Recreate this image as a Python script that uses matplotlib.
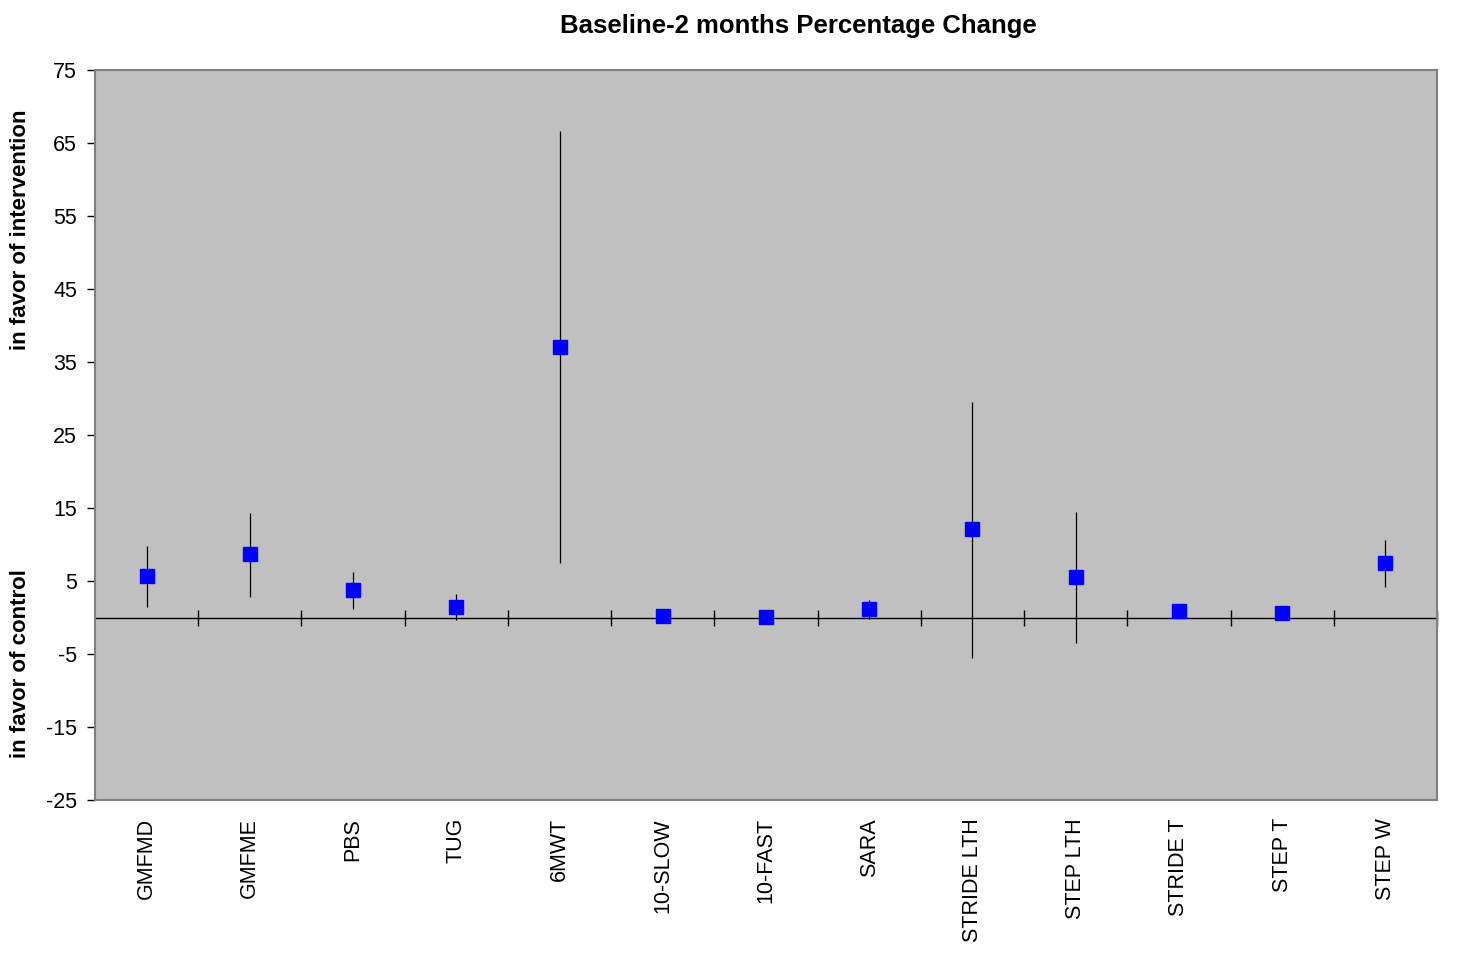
import matplotlib.pyplot as plt
import numpy as np

plt.rcParams["font.family"] = ["Liberation Sans", "DejaVu Sans"]
plt.rcParams["axes.unicode_minus"] = False

measures = ["GMFMD", "GMFME", "PBS", "TUG", "6MWT", "10-SLOW", "10-FAST",
            "SARA", "STRIDE LTH", "STEP LTH", "STRIDE T", "STEP T", "STEP W"]
change = [5.7, 8.7, 3.8, 1.4, 37.0, 0.2, 0.1, 1.1, 12.1, 5.5, 0.9, 0.6, 7.5]
upper = [9.8, 14.3, 6.2, 3.2, 66.6, 0.5, 0.3, 2.4, 29.5, 14.5, 1.1, 0.8, 10.6]
lower = [1.4, 2.8, 1.2, -0.3, 7.5, -0.1, -0.1, -0.2, -5.5, -3.5, 0.7, 0.4, 4.2]
y_ticks = [75, 65, 55, 45, 35, 25, 15, 5, -5, -15, -25]

x = np.arange(len(measures))
change = np.array(change)
yerr = [change - np.array(lower), np.array(upper) - change]

fig = plt.figure(figsize=(14.57, 9.71), dpi=100)
ax = fig.add_axes([0.0652, 0.1761, 0.9211, 0.7518])
ax.set_facecolor("#c0c0c0")

ax.errorbar(x, change, yerr=yerr, fmt="s", color="#0000ff", markersize=9.5,
            ecolor="black", elinewidth=0.9, capsize=0, zorder=3)

ax.set_xlim(-0.5, len(measures) - 0.5)
ax.set_ylim(-25, 75)
ax.set_yticks(y_ticks)
ax.tick_params(axis="y", direction="out", length=6, width=1, labelsize=15.5, pad=7)
ax.set_xticks(x)
ax.set_xticklabels(measures, rotation=90, fontsize=15.5, va="top", ha="center")
ax.tick_params(axis="x", length=0, pad=13)

for side in ["left", "right", "top", "bottom"]:
    ax.spines[side].set_color("#808080")
    ax.spines[side].set_linewidth(1.5)

# zero line (y=0 sits at 25% of the axis height) with category separator ticks
zero = ax.secondary_xaxis(25 / 100)
zero.set_xticks(np.arange(0.5, len(measures), 1.0))
zero.tick_params(direction="inout", length=12, width=1, labelbottom=False,
                 labeltop=False, color="black")
zero.spines["bottom"].set_color("black")
zero.spines["top"].set_color("black")
zero.spines["bottom"].set_linewidth(1)
zero.spines["top"].set_linewidth(1)

fig.text(0.548, 0.973, "Baseline-2 months Percentage Change", ha="center",
         va="center", fontsize=18.5, fontweight="bold")
fig.text(0.014, 0.763, "in favor of intervention", rotation=90, ha="center",
         va="center", fontsize=16, fontweight="bold")
fig.text(0.014, 0.317, "in favor of control", rotation=90, ha="center",
         va="center", fontsize=16, fontweight="bold")

fig.savefig("out.png", dpi=100)
